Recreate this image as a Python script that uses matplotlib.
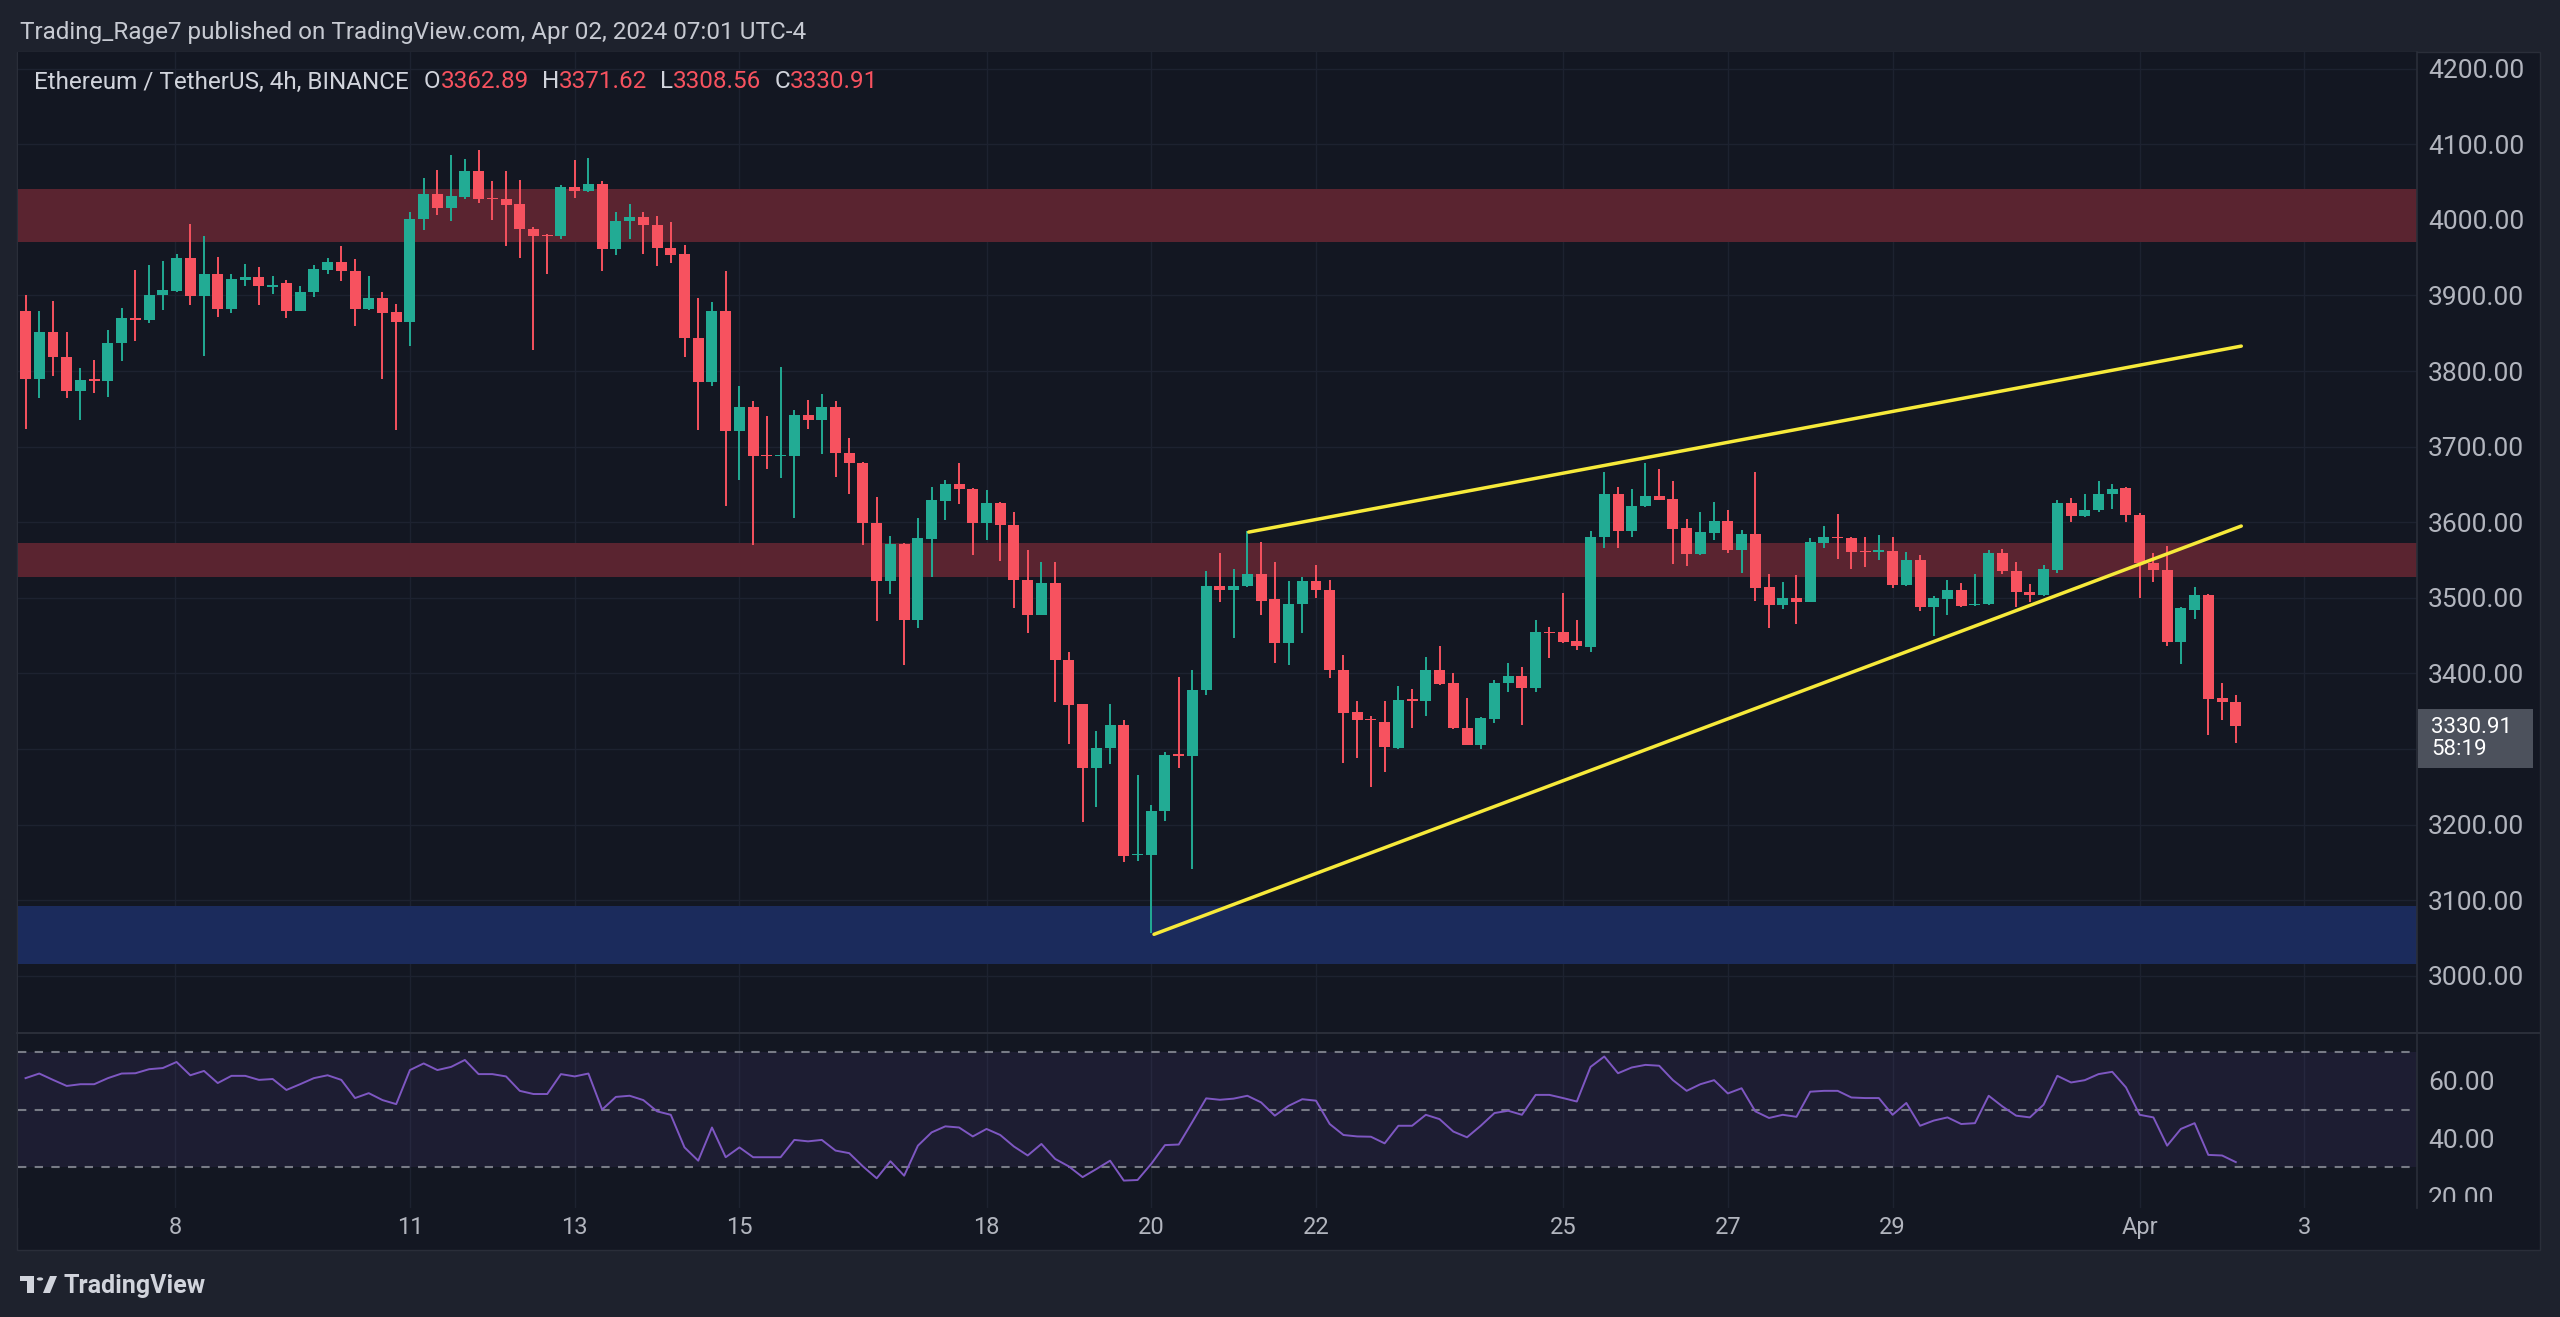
import matplotlib
matplotlib.use("Agg")
import matplotlib.pyplot as plt
from matplotlib.patches import Rectangle, Circle, Polygon
from matplotlib.lines import Line2D
from matplotlib.transforms import Bbox, TransformedBbox

# ETH/USDT 4h candles, Mar 6 08:00 -> Apr 2 04:00 (UTC-4)
opens = [3880, 3790, 3852, 3818, 3774, 3789, 3787, 3837, 3870, 3868,
         3901, 3906, 3950, 3899, 3928, 3882, 3920, 3925, 3911, 3916,
         3880, 3904, 3934, 3944, 3932, 3882, 3897, 3878, 3865, 4001,
         4034, 4016, 4030, 4065, 4029, 4027, 4021, 3988, 3980, 3978,
         4043, 4038, 4048, 3962, 3998, 4004, 3993, 3963, 3955, 3844,
         3785, 3880, 3721, 3753, 3689, 3688, 3688, 3742, 3735, 3752,
         3692, 3679, 3599, 3522, 3571, 3471, 3578, 3628, 3651, 3644,
         3599, 3626, 3597, 3524, 3477, 3520, 3418, 3359, 3275, 3301,
         3332, 3160, 3160, 3218, 3293, 3291, 3378, 3516, 3510, 3516,
         3532, 3498, 3440, 3492, 3522, 3511, 3405, 3349, 3339, 3336,
         3302, 3366, 3364, 3405, 3387, 3328, 3306, 3340, 3387, 3397,
         3381, 3455, 3455, 3443, 3435, 3580, 3638, 3589, 3621, 3635,
         3631, 3592, 3558, 3586, 3602, 3563, 3585, 3514, 3490, 3500,
         3495, 3573, 3581, 3579, 3562, 3561, 3562, 3517, 3550, 3488,
         3499, 3510, 3490, 3492, 3560, 3536, 3508, 3504, 3537, 3625,
         3608, 3616, 3637, 3645, 3610, 3546, 3537, 3442, 3484, 3504,
         3367, 3362.89]
highs = [3900, 3880, 3893, 3852, 3804, 3815, 3854, 3883, 3934, 3940,
         3946, 3955, 3994, 3979, 3951, 3928, 3941, 3937, 3926, 3920,
         3913, 3940, 3950, 3966, 3948, 3926, 3904, 3889, 4011, 4055,
         4066, 4086, 4081, 4093, 4052, 4065, 4053, 3991, 3981, 4046,
         4079, 4082, 4052, 4010, 4021, 4010, 4005, 3997, 3967, 3896,
         3891, 3933, 3780, 3760, 3741, 3806, 3748, 3762, 3770, 3760,
         3711, 3680, 3633, 3582, 3572, 3606, 3647, 3656, 3679, 3645,
         3643, 3627, 3613, 3563, 3547, 3547, 3428, 3360, 3324, 3359,
         3339, 3266, 3226, 3296, 3396, 3405, 3535, 3559, 3538, 3588,
         3574, 3547, 3522, 3527, 3543, 3524, 3425, 3363, 3344, 3363,
         3384, 3380, 3422, 3436, 3401, 3367, 3343, 3392, 3414, 3408,
         3471, 3461, 3506, 3471, 3588, 3667, 3646, 3644, 3679, 3670,
         3654, 3604, 3614, 3627, 3616, 3590, 3666, 3531, 3521, 3530,
         3579, 3595, 3611, 3580, 3580, 3583, 3580, 3561, 3557, 3502,
         3523, 3520, 3532, 3563, 3564, 3547, 3518, 3543, 3630, 3632,
         3637, 3655, 3650, 3646, 3612, 3560, 3569, 3488, 3515, 3505,
         3388, 3371.62]
lows = [3723, 3764, 3793, 3764, 3735, 3771, 3766, 3813, 3840, 3864,
        3881, 3905, 3887, 3820, 3871, 3877, 3912, 3887, 3902, 3870,
        3879, 3898, 3929, 3919, 3860, 3881, 3790, 3722, 3833, 3986,
        4006, 3998, 4027, 4022, 4000, 3965, 3950, 3828, 3928, 3975,
        4029, 4037, 3932, 3953, 3975, 3955, 3939, 3943, 3819, 3722,
        3780, 3622, 3656, 3570, 3670, 3658, 3606, 3723, 3690, 3660,
        3637, 3570, 3469, 3505, 3411, 3460, 3528, 3603, 3624, 3557,
        3577, 3549, 3486, 3453, 3477, 3362, 3307, 3203, 3224, 3280,
        3150, 3152, 3057, 3205, 3275, 3142, 3372, 3494, 3447, 3515,
        3478, 3414, 3411, 3454, 3500, 3394, 3281, 3288, 3250, 3270,
        3300, 3328, 3344, 3385, 3327, 3305, 3300, 3335, 3376, 3332,
        3375, 3420, 3440, 3431, 3428, 3566, 3566, 3580, 3620, 3629,
        3545, 3542, 3557, 3576, 3560, 3533, 3496, 3460, 3485, 3466,
        3494, 3566, 3552, 3538, 3541, 3550, 3513, 3516, 3482, 3449,
        3477, 3488, 3489, 3491, 3532, 3488, 3495, 3503, 3533, 3601,
        3607, 3614, 3617, 3600, 3500, 3521, 3437, 3413, 3472, 3319,
        3338, 3308.56]
closes = [3790, 3852, 3818, 3774, 3788, 3787, 3837, 3870, 3868, 3901,
          3907, 3950, 3899, 3928, 3882, 3922, 3924, 3912, 3914, 3880,
          3904, 3935, 3944, 3932, 3882, 3897, 3877, 3865, 4001, 4034,
          4016, 4031, 4065, 4028, 4027, 4020, 3988, 3979, 3979, 4043,
          4038, 4048, 3962, 3999, 4004, 3993, 3963, 3954, 3844, 3785,
          3880, 3721, 3753, 3688, 3688, 3689, 3742, 3735, 3752, 3691,
          3678, 3599, 3522, 3571, 3471, 3579, 3629, 3651, 3644, 3599,
          3626, 3596, 3524, 3477, 3520, 3418, 3358, 3275, 3302, 3332,
          3158, 3161, 3218, 3292, 3291, 3378, 3516, 3510, 3516, 3532,
          3496, 3440, 3492, 3522, 3511, 3404, 3348, 3339, 3338, 3303,
          3365, 3364, 3405, 3386, 3328, 3306, 3341, 3388, 3397, 3381,
          3455, 3453, 3442, 3436, 3581, 3638, 3589, 3622, 3635, 3630,
          3591, 3558, 3587, 3602, 3563, 3585, 3513, 3491, 3500, 3495,
          3574, 3580, 3579, 3561, 3561, 3563, 3517, 3550, 3488, 3500,
          3510, 3489, 3492, 3560, 3535, 3508, 3504, 3538, 3625, 3608,
          3616, 3637, 3644, 3609, 3546, 3537, 3441, 3486, 3504, 3366,
          3362, 3330.91]

# RSI (14)
rsi = [60.9, 62.5, 60.3, 58.2, 58.8, 58.8, 60.9, 62.5, 62.6, 64.0,
       64.4, 66.5, 61.9, 63.4, 59.2, 61.7, 61.7, 60.3, 60.6, 56.8,
       58.8, 60.9, 61.9, 60.3, 54.0, 55.7, 53.3, 51.9, 63.7, 66.0,
       63.7, 64.8, 67.2, 62.3, 62.3, 61.5, 56.5, 55.4, 55.4, 62.3,
       61.5, 62.5, 50.0, 54.4, 54.8, 53.3, 49.4, 48.2, 36.9, 32.3,
       43.8, 33.5, 36.9, 33.5, 33.5, 33.5, 39.5, 39.0, 39.5, 35.8,
       34.9, 30.3, 26.2, 32.1, 27.1, 37.5, 42.1, 44.2, 43.8, 40.7,
       43.3, 41.2, 37.2, 34.1, 38.1, 32.9, 30.3, 26.6, 29.4, 32.3,
       25.4, 25.6, 31.2, 37.7, 37.9, 45.8, 53.9, 53.4, 53.8, 54.8,
       52.5, 47.9, 51.3, 53.6, 53.1, 45.0, 41.2, 40.7, 40.6, 38.3,
       44.4, 44.4, 48.2, 46.7, 42.4, 40.4, 44.4, 48.8, 49.6, 48.2,
       55.1, 55.1, 54.0, 52.8, 64.8, 68.4, 62.6, 64.6, 65.5, 65.2,
       60.2, 56.5, 58.8, 60.2, 55.6, 57.4, 49.4, 47.1, 48.2, 47.5,
       56.2, 56.5, 56.5, 54.2, 54.0, 54.0, 48.2, 52.3, 44.4, 46.2,
       47.3, 45.0, 45.3, 54.8, 51.1, 47.9, 47.3, 51.7, 61.7, 59.4,
       60.2, 62.3, 63.1, 57.7, 48.2, 47.3, 37.5, 43.3, 45.3, 34.3,
       34.1, 31.8]

day_labels = ['8', '11', '13', '15', '18', '20', '22', '25', '27', '29', 'Apr', '3']
day_pos = [10.9, 28, 40, 52, 70, 82, 94, 112, 124, 136, 154, 166]
price_ticks = list(range(3000, 4201, 100))
rsi_ticks = [60, 40, 20]

# analyst drawings
resistance_zones = [(3971, 4041), (3528, 3572)]
support_zone = (3016, 3092)
upper_line_x = [89.1, 161.4]
upper_line_y = [3587, 3833]
lower_line_x = [82.2, 161.4]
lower_line_y = [3055, 3595]

last_price = 3330.91
countdown = '58:19'

W, H = 2560, 1317
BG = '#131722'
FRAME = '#1e222d'
BORDER = '#2a2e39'
TXT = '#b2b5be'
GREEN = '#22ab94'
RED = '#f7525f'

plt.rcParams['font.family'] = ['Roboto', 'DejaVu Sans']

fig = plt.figure(figsize=(W / 100, H / 100), dpi=100, facecolor=FRAME)


def fx(px):
    return px / W


def fy(py):
    return 1 - py / H


# chart panel background (behind the axes)
fig.patches.append(Rectangle((fx(17), fy(1250)), fx(2540 - 17), (1250 - 52) / H,
                             transform=fig.transFigure, facecolor=BG,
                             edgecolor=BORDER, lw=1, zorder=-10))

ax = fig.add_axes([fx(18), fy(1032), fx(2417 - 18), (1032 - 52) / H])
ax_rsi = fig.add_axes([fx(18), fy(1208), fx(2417 - 18), (1208 - 1034) / H])

for a in (ax, ax_rsi):
    a.set_facecolor(BG)
    for s in a.spines.values():
        s.set_visible(False)
    a.set_xlim(-0.55, 174.2)
    a.set_xticks(day_pos)
    a.grid(True, axis='x', color='#1d2230', lw=1, zorder=0)
    a.set_axisbelow(True)

# price pane
x = list(range(len(opens)))
cols = [GREEN if c >= o else RED for o, c in zip(opens, closes)]
bottoms = [min(o, c) for o, c in zip(opens, closes)]
heights = [max(abs(c - o), 1.4) for o, c in zip(opens, closes)]

for lo, hi in resistance_zones:
    ax.axhspan(lo, hi, color='#5a2430', lw=0, zorder=1)
ax.axhspan(support_zone[0], support_zone[1], color='#1b2b5c', lw=0, zorder=1)

ax.vlines(x, lows, highs, colors=cols, lw=1.4, zorder=3)
ax.bar(x, heights, bottom=bottoms, width=0.8, color=cols, lw=0, zorder=4)

ax.plot(upper_line_x, upper_line_y, color='#f7ea3a', lw=2.5, solid_capstyle='round', zorder=5)
ax.plot(lower_line_x, lower_line_y, color='#f7ea3a', lw=2.5, solid_capstyle='round', zorder=5)

ax.set_ylim(2925.8, 4222)
ax.set_yticks(price_ticks)
# the scale label hidden under the last-price badge is left out, as TradingView does
ax.set_yticklabels(['' if abs(p - last_price) < 50 else f'{p:.2f}' for p in price_ticks])
ax.yaxis.tick_right()
ax.grid(True, axis='y', color='#1d2230', lw=1, zorder=0)
ax.tick_params(axis='y', length=0, pad=8, labelsize=19, labelcolor=TXT)
ax.tick_params(axis='x', length=0, labelbottom=False)

# RSI pane
ax_rsi.axhspan(30, 70, color='#7e57c2', alpha=0.1, lw=0, zorder=1)
for lvl in (70, 50, 30):
    ax_rsi.axhline(lvl, color='#787b86', lw=1.5, ls=(0, (4, 4)), zorder=2)
ax_rsi.plot(x, rsi, color='#7e57c2', lw=1.4, zorder=3)
ax_rsi.set_ylim(15.9, 76.2)
ax_rsi.set_yticks(rsi_ticks)
ax_rsi.set_yticklabels([f'{v:.2f}' for v in rsi_ticks])
ax_rsi.yaxis.tick_right()
ax_rsi.tick_params(axis='y', length=0, pad=8, labelsize=19, labelcolor=TXT)
ax_rsi.set_xticklabels(day_labels)
ax_rsi.tick_params(axis='x', length=0, pad=6, labelsize=17, labelcolor=TXT)
clip = TransformedBbox(Bbox([[0, fy(1202)], [1, fy(1034)]]), fig.transFigure)
for t in ax_rsi.yaxis.get_major_ticks():
    t.label2.set_clip_box(clip)
    t.label2.set_clip_on(True)

# separators
fig.add_artist(Line2D([fx(17), fx(2540)], [fy(1033), fy(1033)], color=BORDER, lw=1.5))
fig.add_artist(Line2D([fx(2417), fx(2417)], [fy(52), fy(1208)], color=BORDER, lw=1.2))

# last price label with the candle countdown underneath
fig.patches.append(Rectangle((fx(2418), fy(768)), fx(2533 - 2418), (768 - 709) / H,
                             transform=fig.transFigure, facecolor='#4c515c', lw=0, zorder=5))
fig.text(fx(2431), fy(738.5), f'{last_price:.2f}\n{countdown}', color='white', fontsize=16,
         va='center', ha='left', linespacing=1.05, zorder=6)

# header
fig.text(fx(20), fy(32), 'Trading_Rage7 published on TradingView.com, Apr 02, 2024 07:01 UTC-4',
         color='#c7cad2', fontsize=17.5, va='center', ha='left')

# symbol legend with OHLC values
renderer = fig.canvas.get_renderer()
pieces = [('Ethereum / TetherUS, 4h, BINANCE', '#d1d4dc', 15),
          ('O', '#d1d4dc', 0), (f'{opens[-1]:.2f}', RED, 13),
          ('H', '#d1d4dc', 0), (f'{highs[-1]:.2f}', RED, 13),
          ('L', '#d1d4dc', 0), (f'{lows[-1]:.2f}', RED, 13),
          ('C', '#d1d4dc', 0), (f'{closes[-1]:.2f}', RED, 0)]
xpos = 34
for s, c, gap in pieces:
    t = fig.text(fx(xpos), fy(82), s, color=c, fontsize=17.5, va='center', ha='left')
    bb = t.get_window_extent(renderer)
    xpos += bb.width + gap

# TradingView logo
logo_c = '#d1d4dc'
fig.patches.append(Rectangle((fx(20), fy(1281)), fx(14), 5 / H, transform=fig.transFigure,
                             facecolor=logo_c, lw=0))
fig.patches.append(Rectangle((fx(27), fy(1293)), fx(7), 17 / H, transform=fig.transFigure,
                             facecolor=logo_c, lw=0))
fig.patches.append(Circle((fx(40), fy(1279)), 3.2 / W, transform=fig.transFigure,
                          facecolor=logo_c, lw=0))
fig.patches.append(Polygon([(fx(43), fy(1293)), (fx(50), fy(1293)), (fx(57), fy(1276)),
                            (fx(50), fy(1276))], closed=True, transform=fig.transFigure,
                           facecolor=logo_c, lw=0))
fig.text(fx(63), fy(1286), 'TradingView', color=logo_c, fontsize=18, fontweight='bold',
         va='center', ha='left')

fig.savefig('out.png', dpi=100, facecolor=FRAME)
